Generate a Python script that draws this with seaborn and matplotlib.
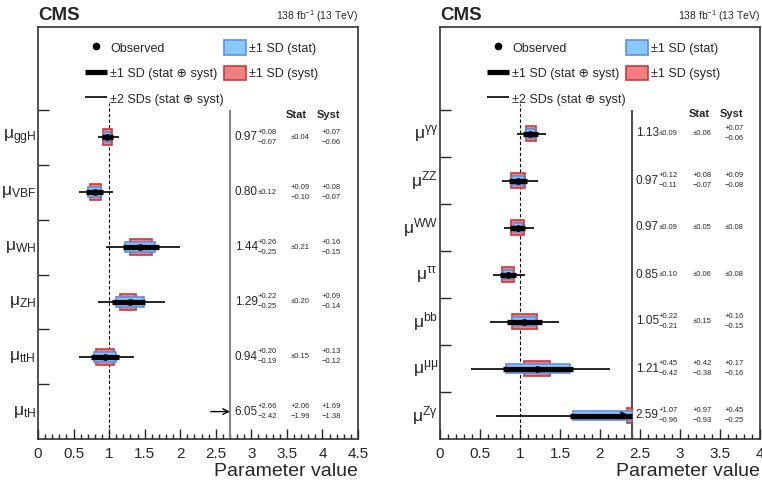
import numpy as np
import matplotlib.pyplot as plt
import seaborn as sns
from matplotlib.lines import Line2D
from matplotlib.patches import Patch
from matplotlib.ticker import MultipleLocator, FuncFormatter

# ---- production modes (left panel), top to bottom ----
prod_labels = [r"$\mathregular{\mu_{ggH}}$", r"$\mathregular{\mu_{VBF}}$", r"$\mathregular{\mu_{WH}}$",
               r"$\mathregular{\mu_{ZH}}$", r"$\mathregular{\mu_{ttH}}$", r"$\mathregular{\mu_{tH}}$"]
prod_mu = [0.97, 0.80, 1.44, 1.29, 0.94, 6.05]
prod_tot_hi = [0.08, 0.12, 0.26, 0.22, 0.20, 2.66]
prod_tot_lo = [0.07, 0.12, 0.25, 0.25, 0.19, 2.42]
prod_stat_hi = [0.04, 0.09, 0.21, 0.20, 0.15, 2.06]
prod_stat_lo = [0.04, 0.10, 0.21, 0.20, 0.15, 1.99]
prod_syst_hi = [0.07, 0.08, 0.16, 0.09, 0.13, 1.69]
prod_syst_lo = [0.06, 0.07, 0.15, 0.14, 0.12, 1.38]
prod_2sd_lo = [0.84, 0.57, 0.95, 0.84, 0.58, 2.43]
prod_2sd_hi = [1.14, 1.06, 1.99, 1.78, 1.35, 11.6]

# ---- decay modes (right panel), top to bottom ----
dec_labels = [r"$\mathregular{\mu^{\gamma\gamma}}$", r"$\mathregular{\mu^{ZZ}}$", r"$\mathregular{\mu^{WW}}$",
              r"$\mathregular{\mu^{\tau\tau}}$", r"$\mathregular{\mu^{bb}}$", r"$\mathregular{\mu^{\mu\mu}}$",
              r"$\mathregular{\mu^{Z\gamma}}$"]
dec_mu = [1.13, 0.97, 0.97, 0.85, 1.05, 1.21, 2.59]
dec_tot_hi = [0.09, 0.12, 0.09, 0.10, 0.22, 0.45, 1.07]
dec_tot_lo = [0.09, 0.11, 0.09, 0.10, 0.21, 0.42, 0.96]
dec_stat_hi = [0.06, 0.08, 0.05, 0.06, 0.15, 0.42, 0.97]
dec_stat_lo = [0.06, 0.07, 0.05, 0.06, 0.15, 0.38, 0.93]
dec_syst_hi = [0.07, 0.09, 0.08, 0.08, 0.16, 0.17, 0.45]
dec_syst_lo = [0.06, 0.08, 0.08, 0.08, 0.15, 0.16, 0.25]
dec_2sd_lo = [0.96, 0.77, 0.80, 0.66, 0.63, 0.39, 0.70]
dec_2sd_hi = [1.32, 1.22, 1.17, 1.06, 1.49, 2.12, 4.80]

STAT_FC, STAT_EC = "#88c8fa", "#5b8fe6"
SYST_FC, SYST_EC = "#f08080", "#d0393b"

sns.set_style("ticks")
plt.rcParams["font.family"] = ["Liberation Sans", "DejaVu Sans"]
plt.rcParams["mathtext.fontset"] = "custom"
plt.rcParams["mathtext.rm"] = "Liberation Sans"


def pm_text(ax, x, y, hi, lo, ha, dx=0):
    if abs(hi - lo) < 1e-9:
        ax.annotate("\u00b1%.2f" % hi, (x, y), xytext=(dx, 0), textcoords="offset points",
                    xycoords=("axes fraction", "data"), ha=ha, va="center", fontsize=5.5)
    else:
        ax.annotate("+%.2f" % hi, (x, y), xytext=(dx, 3.6), textcoords="offset points",
                    xycoords=("axes fraction", "data"), ha=ha, va="center", fontsize=5.5)
        ax.annotate("\u2212%.2f" % lo, (x, y), xytext=(dx, -3.6), textcoords="offset points",
                    xycoords=("axes fraction", "data"), ha=ha, va="center", fontsize=5.5)


def draw_panel(ax, labels, mu, tot_hi, tot_lo, stat_hi, stat_lo, syst_hi, syst_lo,
               lo2, hi2, xcut, xmax, sep_color, h_syst, h_stat, label_pos):
    n = len(mu)
    mu = np.array(mu)
    y = np.arange(n)[::-1] + 0.5

    # syst and stat boxes, clipped at the separator
    for hi_e, lo_e, h, fc, ec in [(syst_hi, syst_lo, h_syst, SYST_FC, SYST_EC),
                                  (stat_hi, stat_lo, h_stat, STAT_FC, STAT_EC)]:
        lo = np.clip(mu - np.array(lo_e), 0, xcut)
        hi = np.clip(mu + np.array(hi_e), 0, xcut)
        m = hi > lo
        ax.barh(y[m], hi[m] - lo[m], left=lo[m], height=h, color=fc, edgecolor=ec,
                linewidth=1.2, zorder=3)

    lo1 = mu - np.array(tot_lo)
    hi1 = mu + np.array(tot_hi)
    lo2 = np.array(lo2)
    hi2 = np.array(hi2)
    for i in range(n):
        if lo1[i] < xcut:
            ax.hlines(y[i], lo2[i], min(hi2[i], xcut), color="black", lw=1.2, zorder=4)
            ax.hlines(y[i], lo1[i], min(hi1[i], xcut), color="black", lw=3.8, zorder=5)
            if hi1[i] > xcut:
                ax.annotate("", xy=(xcut, y[i]), xytext=(xcut - 0.2, y[i]),
                            arrowprops=dict(arrowstyle="->", lw=1.6, color="black",
                                            mutation_scale=10), zorder=6)
        elif lo2[i] < xcut:
            ax.annotate("", xy=(xcut, y[i]), xytext=(lo2[i], y[i]),
                        arrowprops=dict(arrowstyle="->", lw=1.0, color="black",
                                        mutation_scale=10, shrinkA=0, shrinkB=0), zorder=6)

    vis = mu < xcut
    sns.scatterplot(x=mu[vis], y=y[vis], color="black", s=24, linewidth=0, zorder=7, ax=ax)

    # reference lines
    ax.vlines(1.0, 0, n + 0.12, color="black", lw=0.8, linestyles=(0, (3, 2)), zorder=2)
    ax.vlines(xcut, 0, n, color=sep_color, lw=1.5, zorder=2)

    # labels on the left
    for lab, yy in zip(labels, y):
        ax.text(-0.006, yy, lab, transform=ax.get_yaxis_transform(), ha="right",
                va="center", fontsize=12.5)

    # numbers
    xv, xs, xy_ = label_pos
    for i in range(n):
        ax.text(xv, y[i], "%.2f" % mu[i], transform=ax.get_yaxis_transform(),
                ha="left", va="center", fontsize=8.5)
        pm_text(ax, xv, y[i], tot_hi[i], tot_lo[i], "left", dx=16.5)
        pm_text(ax, xs, y[i], stat_hi[i], stat_lo[i], "center")
        pm_text(ax, xy_, y[i], syst_hi[i], syst_lo[i], "center")
    ax.text(xs - 0.011, n - 0.09, "Stat", transform=ax.get_yaxis_transform(),
            ha="center", va="center", fontsize=8, weight="bold")
    ax.text(xy_ - 0.008, n - 0.09, "Syst", transform=ax.get_yaxis_transform(),
            ha="center", va="center", fontsize=8, weight="bold")

    # axes cosmetics
    ax.set_xlim(0, xmax)
    ax.set_ylim(0, 412 / 329 * n)
    ax.set_yticks(np.arange(1, n + 1))
    ax.set_yticklabels([])
    ax.xaxis.set_major_locator(MultipleLocator(0.5))
    ax.xaxis.set_minor_locator(MultipleLocator(0.1))
    ax.xaxis.set_major_formatter(FuncFormatter(lambda v, p: "%g" % v))
    ax.tick_params(axis="x", which="major", direction="in", length=7, width=1,
                   labelsize=11, pad=6, top=False)
    ax.tick_params(axis="x", which="minor", direction="in", length=3.5, width=1, top=False)
    ax.tick_params(axis="y", which="major", direction="in", length=8, width=1, right=False)
    for s in ax.spines.values():
        s.set_color("#333333")
        s.set_linewidth(1.2)
    ax.set_xlabel("Parameter value", loc="right", fontsize=14, labelpad=1)
    ax.set_ylabel("")

    ax.text(0, 1.008, "CMS", transform=ax.transAxes, ha="left", va="bottom",
            fontsize=13.5, weight="bold")
    ax.text(1, 1.008, r"138 fb$^{\mathregular{-1}}$ (13 TeV)", transform=ax.transAxes,
            ha="right", va="bottom", fontsize=7.5)

    handles = [
        Line2D([], [], marker="o", ls="none", color="black", markersize=4.5),
        Line2D([], [], color="black", lw=3.8, solid_capstyle="butt"),
        Line2D([], [], color="black", lw=1.2, solid_capstyle="butt"),
        Patch(facecolor=STAT_FC, edgecolor=STAT_EC, linewidth=1.2),
        Patch(facecolor=SYST_FC, edgecolor=SYST_EC, linewidth=1.2),
    ]
    names = ["Observed", "\u00b11 SD (stat \u2295 syst)", "\u00b12 SDs (stat \u2295 syst)",
             "\u00b11 SD (stat)", "\u00b11 SD (syst)"]
    ax.legend(handles, names, ncol=2, loc="upper left", bbox_to_anchor=(0.147, 0.968),
              frameon=False, fontsize=9, handlelength=1.75, handleheight=1.4,
              handletextpad=0.25, columnspacing=0.0, labelspacing=0.9,
              borderpad=0, borderaxespad=0, numpoints=1)


fig = plt.figure(figsize=(7.62, 4.8), dpi=100)
ax1 = fig.add_axes([38 / 762, 41 / 480, 320 / 762, 412 / 480])
ax2 = fig.add_axes([440 / 762, 41 / 480, 320 / 762, 412 / 480])

draw_panel(ax1, prod_labels, prod_mu, prod_tot_hi, prod_tot_lo, prod_stat_hi, prod_stat_lo,
           prod_syst_hi, prod_syst_lo, prod_2sd_lo, prod_2sd_hi, xcut=2.7, xmax=4.5,
           sep_color="#858585", h_syst=0.29, h_stat=0.18, label_pos=(0.615, 0.819, 0.916))
draw_panel(ax2, dec_labels, dec_mu, dec_tot_hi, dec_tot_lo, dec_stat_hi, dec_stat_lo,
           dec_syst_hi, dec_syst_lo, dec_2sd_lo, dec_2sd_hi, xcut=2.4, xmax=4.0,
           sep_color="#505050", h_syst=0.32, h_stat=0.2, label_pos=(0.612, 0.820, 0.918))

fig.savefig("out.png", dpi=100)
